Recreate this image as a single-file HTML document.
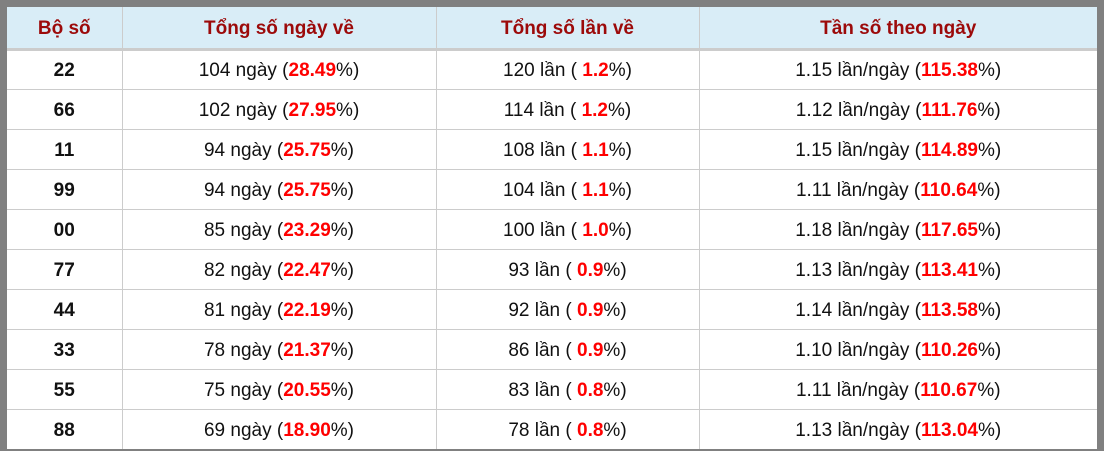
<!DOCTYPE html>
<html><head><style>
html,body{margin:0;padding:0;background:#fff;}
.box{position:absolute;left:0;top:0;width:1090px;height:442px;border:7px solid #808080;border-bottom-width:2px;background:#fff;overflow:hidden;}
table{border-collapse:collapse;width:1090px;table-layout:fixed;font-family:"Liberation Sans",sans-serif;font-size:19px;color:#111;}
th{background:#d9edf7;color:#9c0a0a;font-weight:bold;height:42px;box-sizing:border-box;border-right:1px solid #ccc;border-bottom:3px solid #ccc;padding:4px 0 0 0;}
td{height:40px;border-right:1px solid #ccc;border-bottom:1px solid #ccc;text-align:center;padding:3px 0 0 0;box-sizing:border-box;}
th:last-child,td:last-child{border-right:none;}
tr:last-child td{border-bottom:none;}
td.b{font-weight:bold;}
.r{color:#f00;font-weight:bold;}
</style></head><body>
<div class="box"><table>
<colgroup><col style="width:115px"><col style="width:314px"><col style="width:263px"><col style="width:398px"></colgroup>
<tr><th>Bộ số</th><th>Tổng số ngày về</th><th>Tổng số lần về</th><th>Tần số theo ngày</th></tr>
<tr><td class="b">22</td><td>104 ngày (<span class="r">28.49</span>%)</td><td>120 lần ( <span class="r">1.2</span>%)</td><td>1.15 lần/ngày (<span class="r">115.38</span>%)</td></tr>
<tr><td class="b">66</td><td>102 ngày (<span class="r">27.95</span>%)</td><td>114 lần ( <span class="r">1.2</span>%)</td><td>1.12 lần/ngày (<span class="r">111.76</span>%)</td></tr>
<tr><td class="b">11</td><td>94 ngày (<span class="r">25.75</span>%)</td><td>108 lần ( <span class="r">1.1</span>%)</td><td>1.15 lần/ngày (<span class="r">114.89</span>%)</td></tr>
<tr><td class="b">99</td><td>94 ngày (<span class="r">25.75</span>%)</td><td>104 lần ( <span class="r">1.1</span>%)</td><td>1.11 lần/ngày (<span class="r">110.64</span>%)</td></tr>
<tr><td class="b">00</td><td>85 ngày (<span class="r">23.29</span>%)</td><td>100 lần ( <span class="r">1.0</span>%)</td><td>1.18 lần/ngày (<span class="r">117.65</span>%)</td></tr>
<tr><td class="b">77</td><td>82 ngày (<span class="r">22.47</span>%)</td><td>93 lần ( <span class="r">0.9</span>%)</td><td>1.13 lần/ngày (<span class="r">113.41</span>%)</td></tr>
<tr><td class="b">44</td><td>81 ngày (<span class="r">22.19</span>%)</td><td>92 lần ( <span class="r">0.9</span>%)</td><td>1.14 lần/ngày (<span class="r">113.58</span>%)</td></tr>
<tr><td class="b">33</td><td>78 ngày (<span class="r">21.37</span>%)</td><td>86 lần ( <span class="r">0.9</span>%)</td><td>1.10 lần/ngày (<span class="r">110.26</span>%)</td></tr>
<tr><td class="b">55</td><td>75 ngày (<span class="r">20.55</span>%)</td><td>83 lần ( <span class="r">0.8</span>%)</td><td>1.11 lần/ngày (<span class="r">110.67</span>%)</td></tr>
<tr><td class="b">88</td><td>69 ngày (<span class="r">18.90</span>%)</td><td>78 lần ( <span class="r">0.8</span>%)</td><td>1.13 lần/ngày (<span class="r">113.04</span>%)</td></tr>
</table></div>
</body></html>
